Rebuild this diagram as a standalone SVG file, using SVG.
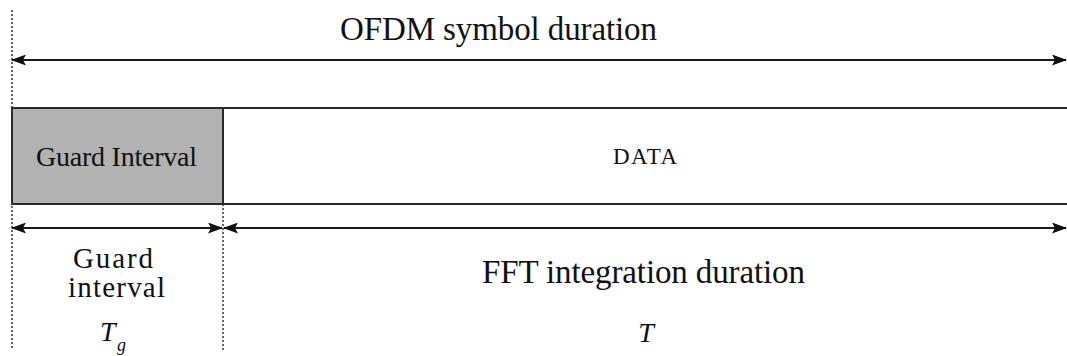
<svg xmlns="http://www.w3.org/2000/svg" width="1067" height="356" viewBox="0 0 1067 356">
  <style>
    .txt { font-family: "Liberation Serif", "Times New Roman", serif; fill: #111; }
    .ital { font-style: italic; }
    .edge { stroke: #2a2a2a; stroke-width: 2; fill: none; }
    .shade { fill: #b2b2b2; stroke: #2a2a2a; stroke-width: 2; }
    .guide { stroke: #333; stroke-width: 1.5; stroke-dasharray: 2 2; fill: none; }
    .dim { stroke: #1a1a1a; stroke-width: 2; fill: none; marker-start: url(#head-start); marker-end: url(#head-end); }
  </style>
  <defs>
    <marker id="head-end" viewBox="0 0 15 11" refX="14" refY="5.5" markerWidth="15" markerHeight="11" markerUnits="userSpaceOnUse" orient="auto">
      <path d="M0,0 L15,5.5 L0,11 L3,5.5 z" fill="#111"/>
    </marker>
    <marker id="head-start" viewBox="0 0 15 11" refX="1" refY="5.5" markerWidth="15" markerHeight="11" markerUnits="userSpaceOnUse" orient="auto">
      <path d="M15,0 L0,5.5 L15,11 L12,5.5 z" fill="#111"/>
    </marker>
  </defs>

  <rect width="1067" height="356" fill="#ffffff"/>

  <!-- symbol frame: guard interval block and data block -->
  <g id="guard-block">
    <rect x="12" y="108" width="211" height="96" class="shade"/>
    <text class="txt" x="116.5" y="166" font-size="28" text-anchor="middle" textLength="161">Guard Interval</text>
  </g>
  <g id="data-block">
    <path class="edge" d="M223,108 H1067 M223,204 H1067"/>
    <text class="txt" x="645" y="164" font-size="23" text-anchor="middle" textLength="64">DATA</text>
  </g>

  <!-- dimension labels -->
  <g id="symbol-label">
    <text class="txt" x="498.5" y="40" font-size="33" text-anchor="middle" textLength="317">OFDM symbol duration</text>
  </g>
  <g id="guard-label">
    <text class="txt" x="113" y="268" font-size="29" text-anchor="middle" textLength="80">Guard</text>
    <text class="txt" x="116.5" y="297" font-size="29" text-anchor="middle" textLength="97">interval</text>
    <text class="txt ital" x="100" y="341" font-size="28">T</text>
    <text class="txt ital" x="117" y="351" font-size="18">g</text>
  </g>
  <g id="fft-label">
    <text class="txt" x="643.5" y="283" font-size="33" text-anchor="middle" textLength="323">FFT integration duration</text>
    <text class="txt ital" x="646" y="342" font-size="28" text-anchor="middle">T</text>
  </g>

  <!-- guide lines and dimension arrows -->
  <g id="connectors">
    <path class="guide" d="M12,10 V350"/>
    <path class="guide" d="M223,204 V350"/>
    <path class="dim" d="M12,60 H1066"/>
    <path class="dim" d="M12,228 H222"/>
    <path class="dim" d="M224,228 H1066"/>
  </g>
</svg>
